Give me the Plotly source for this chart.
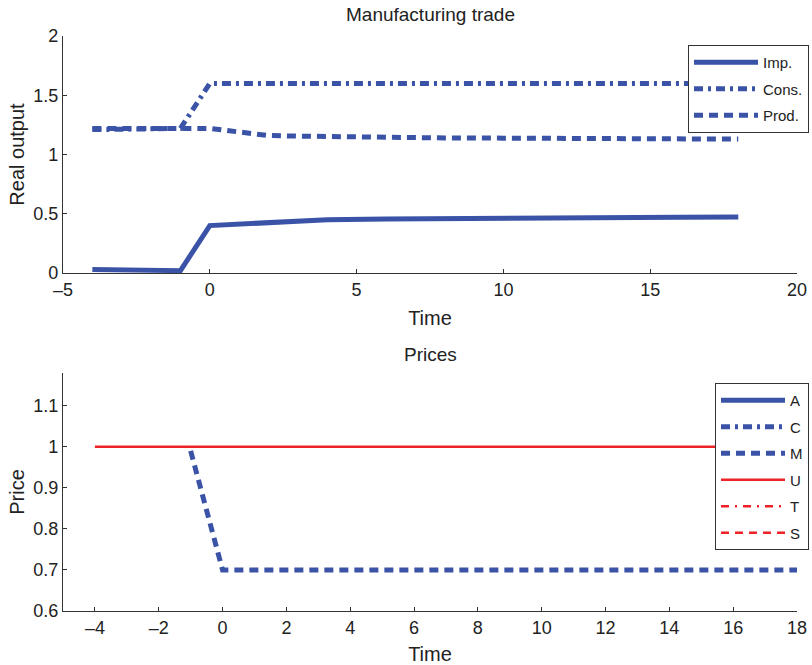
import plotly.graph_objects as go

# Manufacturing trade (real output)
t_out = [-4, -3, -2, -1, 0, 1, 2, 3, 4, 6, 8, 10, 12, 14, 16, 18]
imp = [0.03, 0.025, 0.02, 0.02, 0.40, 0.415, 0.43, 0.44, 0.45, 0.455, 0.46, 0.462, 0.465, 0.467, 0.47, 0.472]
cons = [1.21, 1.21, 1.215, 1.22, 1.60, 1.60, 1.60, 1.60, 1.60, 1.60, 1.60, 1.60, 1.60, 1.60, 1.60, 1.60]
prod = [1.22, 1.22, 1.22, 1.22, 1.22, 1.19, 1.16, 1.155, 1.15, 1.145, 1.14, 1.138, 1.135, 1.133, 1.132, 1.13]

# Prices
t_price = [-4, -3, -2, -1, 0, 2, 4, 6, 8, 10, 12, 14, 16, 18]
price_m = [None, None, None, 0.99, 0.70, 0.70, 0.70, 0.70, 0.70, 0.70, 0.70, 0.70, 0.70, 0.70]
price_u = [1.0, 1.0, 1.0, 1.0, 1.0, 1.0, 1.0, 1.0, 1.0, 1.0, 1.0, 1.0, 1.0, 1.0]
price_a = []
price_c = []
price_t = []
price_s = []

out_ticks = [-5, 0, 5, 10, 15, 20]
out_yticks = [0, 0.5, 1, 1.5, 2]
price_xticks = [-4, -2, 0, 2, 4, 6, 8, 10, 12, 14, 16, 18]
price_yticks = [0.6, 0.7, 0.8, 0.9, 1.0, 1.1]

BLUE = "#3a53a6"
RED = "#ee2229"
AXC = "#333333"
FONT = "Liberation Sans, Arial, sans-serif"

fig = go.Figure()


def add(x, y, name, color, width, dash, xa, ya, leg, grp):
    if not y:
        x, y = [None], [None]
    fig.add_trace(go.Scatter(
        x=x, y=y, name=name, mode="lines",
        line=dict(color=color, width=width, dash=dash),
        xaxis=xa, yaxis=ya, legend=leg, legendgroup=grp,
        connectgaps=False,
    ))


DASHDOT = "9px,5px,3px,5px"
DASH = "9px,6px"
RDASHDOT = "8px,6px,2px,6px"
RDASH = "8px,6px"

add(t_out, imp, "Imp.", BLUE, 5, "solid", "x", "y", "legend", "g1")
add(t_out, cons, "Cons.", BLUE, 5, DASHDOT, "x", "y", "legend", "g2")
add(t_out, prod, "Prod.", BLUE, 5, DASH, "x", "y", "legend", "g3")

add(t_price, price_a, "A", BLUE, 5, "solid", "x2", "y2", "legend2", "h1")
add(t_price, price_c, "C", BLUE, 5, DASHDOT, "x2", "y2", "legend2", "h2")
add(t_price, price_m, "M", BLUE, 5, DASH, "x2", "y2", "legend2", "h3")
add(t_price, price_u, "U", RED, 2.5, "solid", "x2", "y2", "legend2", "h4")
add(t_price, price_t, "T", RED, 2.5, RDASHDOT, "x2", "y2", "legend2", "h5")
add(t_price, price_s, "S", RED, 2.5, RDASH, "x2", "y2", "legend2", "h6")

axis_common = dict(
    showline=True, linecolor=AXC, linewidth=1.2, mirror=False, automargin=False,
    ticks="inside", ticklen=4, tickcolor=AXC, showgrid=False, zeroline=False,
    tickfont=dict(family=FONT, size=18, color="#222"),
    title_font=dict(family=FONT, size=20, color="#222"),
)

top_dom = [(611 - 273) / 575, 1.0]
bot_dom = [0.0, (611 - 373) / 575]

legend_common = dict(
    xref="container", yref="container", xanchor="right", yanchor="top",
    bgcolor="white", bordercolor=AXC, borderwidth=1,
    font=dict(family=FONT, size=15, color="#222"),
    itemwidth=64, tracegroupgap=4,
)

fig.update_layout(
    width=812, height=665,
    margin=dict(l=63, r=15, t=36, b=54, autoexpand=False),
    plot_bgcolor="white", paper_bgcolor="white",
    font=dict(family=FONT, color="#222"),
    showlegend=True,
    xaxis=dict(axis_common, range=[-5, 20], tickvals=out_ticks,
               ticktext=["\u20135" if v < 0 else str(v) for v in out_ticks],
               anchor="y", domain=[0, 1], title=dict(text="Time", standoff=12)),
    yaxis=dict(axis_common, range=[0, 2], tickvals=out_yticks,
               ticktext=["0", "0.5", "1", "1.5", "2"],
               anchor="x", domain=top_dom, title=dict(text="Real output", standoff=3)),
    xaxis2=dict(axis_common, range=[-5, 18], tickvals=price_xticks,
                ticktext=[("\u2013" + str(-v)) if v < 0 else str(v) for v in price_xticks],
                anchor="y2", domain=[0, 1], title=dict(text="Time", standoff=11)),
    yaxis2=dict(axis_common, range=[0.6, 1.18], tickvals=price_yticks,
                ticktext=["0.6", "0.7", "0.8", "0.9", "1", "1.1"],
                anchor="x2", domain=bot_dom, title=dict(text="Price", standoff=3)),
    legend=dict(legend_common, x=809 / 812, y=1 - 45 / 665),
    legend2=dict(legend_common, x=809 / 812, y=1 - 383 / 665),
    annotations=[
        dict(text="Manufacturing trade", x=0.5, xref="paper", y=(611 - 15) / 575, yref="paper",
             showarrow=False, font=dict(family=FONT, size=19, color="#222"), yanchor="middle"),
        dict(text="Prices", x=0.5, xref="paper", y=(611 - 354) / 575, yref="paper",
             showarrow=False, font=dict(family=FONT, size=19, color="#222"), yanchor="middle"),
    ],
)

fig.write_html("out.html")
